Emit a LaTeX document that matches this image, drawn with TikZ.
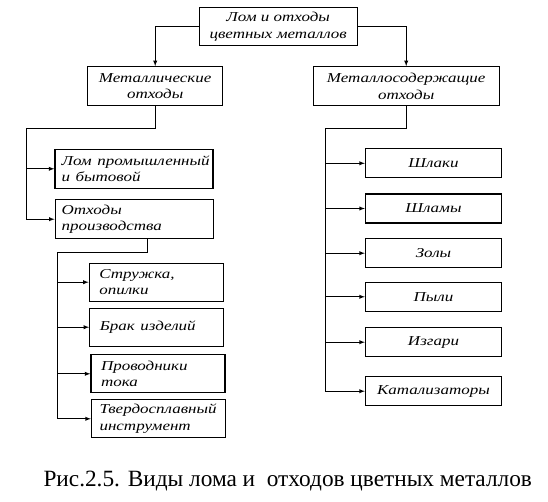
\documentclass[tikz,border=0pt]{standalone}
\usepackage{fontspec}
\setmainfont{Liberation Serif}[ItalicFont={Liberation Serif Italic},BoldItalicFont={Liberation Serif Bold Italic}]
\usepackage{graphicx}
\usepackage{tikz}
\usetikzlibrary{arrows}
\usetikzlibrary{calc}
\newcommand{\sq}[1]{\scalebox{1}[0.8]{#1}}

\begin{document}
\begin{tikzpicture}[x=1pt,y=-1pt,
    box/.style={draw=black,line width=1.3pt,font=\itshape\fontsize{17}{16.5}\selectfont,inner ysep=1pt},
    cbox/.style={box,align=center,minimum height=39pt},
    lbox/.style={box,align=left,inner xsep=6.5pt,text width=145pt,minimum height=39pt},
    sbox/.style={box,align=left,inner xsep=10pt,text width=114pt,minimum height=38pt},
    rbox/.style={box,align=center,minimum width=136pt,minimum height=29pt},
    link/.style={black,line width=0.9pt}]
\useasboundingbox (0,0) rectangle (548,502);
%% top level
\node[cbox,minimum width=158pt,minimum height=38pt] (top) at (278.2,26.5) {\sq{Лом и отходы}\\\sq{цветных металлов}};
\node[cbox,minimum width=135pt] (metal) at (155.2,86.3) {\sq{Металлические}\\\sq{отходы}};
\node[cbox,minimum width=186pt] (metcont) at (406.2,86.3) {\sq{Металлосодержащие}\\\sq{отходы}};
   \draw[link,-latex] (top.west) -| (metal.north);
   \draw[link,-latex] (top.east) -| (metcont.north);
%% left branch
\node[lbox] (lom) at (134,168.8) {\sq{Лом промышленный}\\\sq{и бытовой}};
\node[lbox] (prod) at (134.2,219.2) {\sq{Отходы}\\\sq{производства}};
\node[sbox] (struzh) at (156.3,282.2) {\sq{Стружка,}\\\sq{опилки}};
\node[sbox] (brak) at (156.8,327.2) {\sq{Брак изделий}};
\node[sbox] (provod) at (158,373.8) {\sq{Проводники}\\\sq{тока}};
\node[sbox,inner xsep=8pt,text width=118pt] (tverd) at (158.5,418.8) {\sq{Твердосплавный}\\\sq{инструмент}};
\coordinate (lt) at (26,128);
\coordinate (pt) at (57,252.7);
   \draw[link,-latex] (metal.south) |- (lt) |- (prod.west);
   \draw[link,-latex] (lt |- lom.west) -- (lom.west);
   \draw[link,-latex] ([xshift=13.5pt]prod.south) |- (pt) |- (tverd.west);
\foreach \n in {struzh,brak,provod}
   \draw[link,-latex] (pt |- \n.west) -- (\n.west);
%% right branch
\foreach \y/\n/\txt in {163.3/shlaki/Шлаки, 208.5/shlamy/Шламы, 253.2/zoly/Золы,
    296.8/pyli/Пыли, 342.2/izgari/Изгари, 391.2/kataliz/Катализаторы}
   \node[rbox] (\n) at (433.5,\y) {\sq{\txt}};
\coordinate (rt) at (325.5,128.3);
   \draw[link,-latex] (metcont.south) |- (rt) |- (kataliz.west);
\foreach \n in {shlaki,shlamy,zoly,pyli,izgari}
   \draw[link,-latex] (rt |- \n.west) -- (\n.west);
%% caption
\node[anchor=base west,font=\fontsize{23.3}{24}\selectfont,inner sep=0pt] (cap) at (43.3,486.7) {Рис.2.5. Виды лома и\ \ отходов цветных металлов};
\end{tikzpicture}
\end{document}
